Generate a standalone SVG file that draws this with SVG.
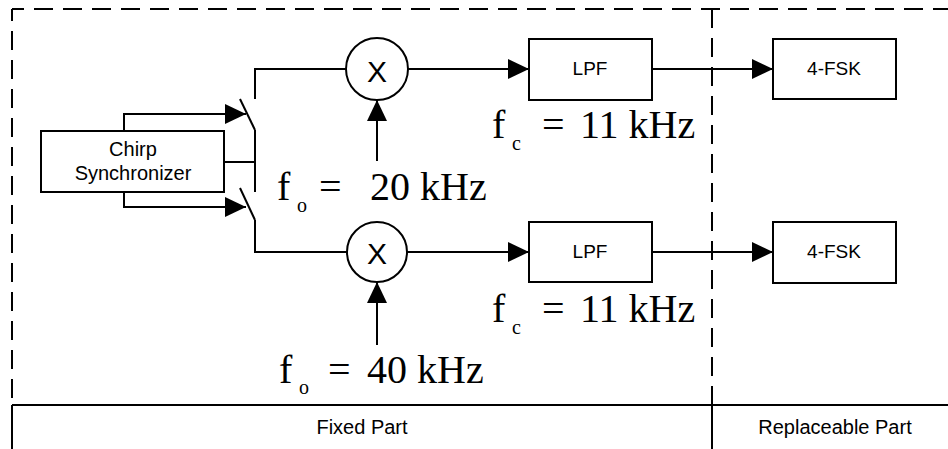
<svg xmlns="http://www.w3.org/2000/svg" width="948" height="449" viewBox="0 0 948 449">
<defs>
<style>
.ln{fill:none;stroke:#000;stroke-width:2}
.dash{fill:none;stroke:#000;stroke-width:2;stroke-dasharray:19 10}
.box{fill:#fff;stroke:#000;stroke-width:2}
.sans{font-family:"Liberation Sans",Arial,sans-serif;fill:#000}
.serif{font-family:"Liberation Serif","Times New Roman",serif;fill:#000;font-size:40px}
.sub{font-family:"Liberation Serif","Times New Roman",serif;fill:#000;font-size:20px}
</style>
<marker id="ah" viewBox="0 0 21 20" refX="21" refY="10" markerWidth="21" markerHeight="20" markerUnits="userSpaceOnUse" orient="auto">
<path d="M0,0 L21,10 L0,20 Z" fill="#000"/>
</marker>
</defs>
<rect width="948" height="449" fill="#fff"/>
<g id="frame">
<line class="dash" x1="12" y1="9" x2="948" y2="9" stroke-dashoffset="7"/>
<line class="dash" x1="12" y1="9" x2="12" y2="405" stroke-dashoffset="7"/>
<line class="dash" x1="712" y1="9" x2="712" y2="405"/>
<line class="ln" x1="12" y1="405" x2="948" y2="405"/>
<line class="ln" x1="12" y1="405" x2="12" y2="449"/>
<line class="ln" x1="712" y1="405" x2="712" y2="449"/>
<text class="sans" x="362" y="434" font-size="20" text-anchor="middle">Fixed Part</text>
<text class="sans" x="835" y="434" font-size="20" text-anchor="middle">Replaceable Part</text>
</g>
<g id="connectors">
<path class="ln" d="M124,131 V114 H246" marker-end="url(#ah)"/>
<path class="ln" d="M124,192 V207 H246" marker-end="url(#ah)"/>
<path class="ln" d="M224,162 H255"/>
<path class="ln" d="M255,130 V192"/>
<path class="ln" d="M240,99 L255,130"/>
<path class="ln" d="M240,188 L255,220"/>
<path class="ln" d="M255,99 V69 H346"/>
<path class="ln" d="M255,220 V252 H347"/>
<path class="ln" d="M408,69 H529" marker-end="url(#ah)"/>
<path class="ln" d="M407,252 H529" marker-end="url(#ah)"/>
<path class="ln" d="M652,69 H773" marker-end="url(#ah)"/>
<path class="ln" d="M652,252 H773" marker-end="url(#ah)"/>
<path class="ln" d="M377,161 V100" marker-end="url(#ah)"/>
<path class="ln" d="M377,345 V282" marker-end="url(#ah)"/>
</g>
<g id="chirp">
<rect class="box" x="41" y="131" width="183" height="61"/>
<text class="sans" x="133" y="156" font-size="20" text-anchor="middle">Chirp</text>
<text class="sans" x="133" y="180" font-size="20" text-anchor="middle">Synchronizer</text>
</g>
<g id="mixer1">
<circle class="box" cx="377" cy="69" r="31"/>
<text class="sans" x="377" y="82" font-size="30" text-anchor="middle">X</text>
</g>
<g id="mixer2">
<circle class="box" cx="377" cy="252" r="30"/>
<text class="sans" x="377" y="264" font-size="30" text-anchor="middle">X</text>
</g>
<g id="lpf1">
<rect class="box" x="529" y="39" width="123" height="61"/>
<text class="sans" x="590" y="75" font-size="19" text-anchor="middle">LPF</text>
</g>
<g id="lpf2">
<rect class="box" x="529" y="222" width="123" height="60"/>
<text class="sans" x="590" y="258" font-size="19" text-anchor="middle">LPF</text>
</g>
<g id="fsk1">
<rect class="box" x="773" y="39" width="123" height="60"/>
<text class="sans" x="834" y="75" font-size="19" text-anchor="middle">4-FSK</text>
</g>
<g id="fsk2">
<rect class="box" x="773" y="222" width="123" height="61"/>
<text class="sans" x="834" y="258" font-size="19" text-anchor="middle">4-FSK</text>
</g>
<g id="label-fo1">
<text class="serif" x="277" y="200">f</text>
<text class="sub" x="297" y="212">o</text>
<text class="serif" x="319" y="200">=</text>
<text class="serif" x="370" y="200">20 kHz</text>
</g>
<g id="label-fo2">
<text class="serif" x="279" y="383">f</text>
<text class="sub" x="299" y="394">o</text>
<text class="serif" x="328" y="383">=</text>
<text class="serif" x="367" y="383">40 kHz</text>
</g>
<g id="label-fc1">
<text class="serif" x="492" y="138">f</text>
<text class="sub" x="512" y="150">c</text>
<text class="serif" x="542" y="138">=</text>
<text class="serif" x="580" y="138">11 kHz</text>
</g>
<g id="label-fc2">
<text class="serif" x="492" y="322">f</text>
<text class="sub" x="512" y="334">c</text>
<text class="serif" x="542" y="322">=</text>
<text class="serif" x="580" y="322">11 kHz</text>
</g>
</svg>
